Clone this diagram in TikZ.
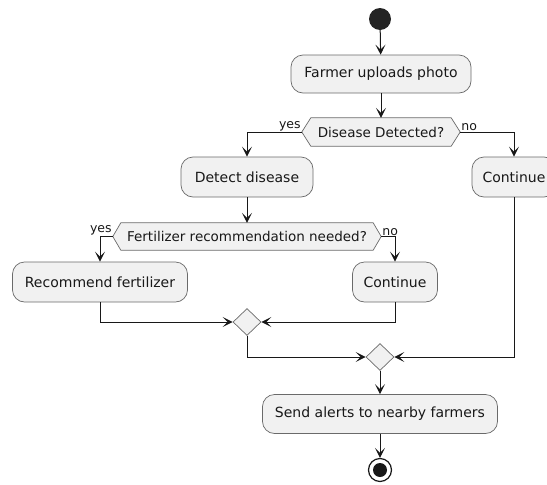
\documentclass[tikz,border=0pt]{standalone}
\usepackage{fontspec}
\setmainfont{DejaVu Sans}
\usetikzlibrary{arrows.meta,shapes.geometric,backgrounds}
\definecolor{boxfill}{HTML}{F1F1F1}
\definecolor{ink}{HTML}{181818}
\definecolor{edge}{HTML}{6A6A6A}
\tikzset{
  x=1pt,y=-1pt,
  actbox/.style={draw=edge,fill=boxfill,line width=0.7pt,rounded corners=12pt,inner sep=0pt,font=\fontsize{14}{16}\selectfont,text=ink},
  hexlabel/.style={inner sep=0pt,font=\fontsize{13.5}{15}\selectfont,text=ink},
  hexshape/.style={draw=edge,fill=boxfill,line width=0.7pt},
  mergebox/.style={diamond,draw=edge,fill=boxfill,line width=0.7pt,inner sep=0pt,minimum width=28pt,minimum height=27pt},
  flow/.style={draw=ink,line width=1pt,-{Stealth[length=10pt,width=10pt,inset=5pt]}},
  branch/.style={font=\fontsize{12.5}{14}\selectfont,text=ink,inner sep=1pt},
}
\begin{document}
\begin{tikzpicture}
\useasboundingbox (0,0) rectangle (547,485);
% start
\node[circle,fill=ink!95,minimum size=22pt,inner sep=0pt] (start) at (380,19) {};
\node[actbox,minimum width=180pt,minimum height=38pt] (upload) at (381,74) {Farmer uploads photo};
% decision 1
\node[hexlabel,minimum width=158pt,minimum height=28pt] (d1) at (381,132) {Disease Detected?};
\node[actbox,minimum width=132pt,minimum height=40pt] (detect) at (247,177) {Detect disease};
\node[actbox,minimum width=84pt,minimum height=40pt] (cont1) at (514,177) {Continue};
% decision 2
\node[hexlabel,minimum width=268pt,minimum height=27pt] (d2) at (247,236.5) {Fertilizer recommendation needed?};
\node[actbox,minimum width=175pt,minimum height=40pt] (recom) at (100,282) {Recommend fertilizer};
\node[actbox,minimum width=85pt,minimum height=40pt] (cont2) at (395,282) {Continue};
% merges
\node[mergebox] (m1) at (247,322) {};
\node[mergebox] (m2) at (380,357) {};
\node[actbox,minimum width=235pt,minimum height=39pt] (send) at (380,414) {Send alerts to nearby farmers};
% end
\node[circle,draw=ink,line width=1.2pt,fill=white,minimum size=23pt,inner sep=0pt] (stop) at (380,470) {};
\node[circle,fill=ink,minimum size=14pt,inner sep=0pt] (stopdot) at (stop.center) {};
% hexagon shapes
\begin{scope}[on background layer]
\draw[hexshape] (d1.west) -- ([xshift=9pt]d1.north west) -- ([xshift=-9pt]d1.north east) -- (d1.east) -- ([xshift=-9pt]d1.south east) -- ([xshift=9pt]d1.south west) -- cycle;
\draw[hexshape] (d2.west) -- ([xshift=8pt]d2.north west) -- ([xshift=-8pt]d2.north east) -- (d2.east) -- ([xshift=-8pt]d2.south east) -- ([xshift=8pt]d2.south west) -- cycle;
\end{scope}
% labels
\node[branch,anchor=south east] (y1) at (d1.west) {yes};
\node[branch,anchor=south west] (n1) at (d1.east) {no};
\node[branch,anchor=south east] (y2) at (d2.west) {yes};
\node[branch,anchor=south west] (n2) at (d2.east) {no};
% connectors
\draw[flow] (start) -- (upload);
\draw[flow] (upload) -- (d1.north);
\draw[flow] (d1.west) -| (detect.north);
\draw[flow] (d1.east) -| (cont1.north);
\draw[flow] (detect) -- (d2.north);
\draw[flow] (d2.west) -| (recom.north);
\draw[flow] (d2.east) -| (cont2.north);
\draw[flow] (recom.south) |- (m1.west);
\draw[flow] (cont2.south) |- (m1.east);
\draw[flow] (m1.south) |- (m2.west);
\draw[flow] (cont1.south) |- (m2.east);
\draw[flow] (m2.south) -- (send.north);
\draw[flow] (send.south) -- (stop.north);
\end{tikzpicture}
\end{document}
